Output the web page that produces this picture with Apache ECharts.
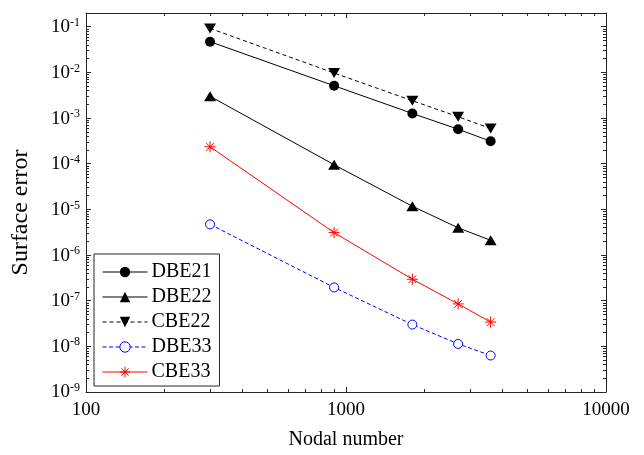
<!DOCTYPE html>
<html>
<head>
<meta charset="utf-8">
<script src="https://cdn.jsdelivr.net/npm/echarts@6/dist/echarts.min.js"></script>
<style>html,body{margin:0;padding:0;background:#fff}#c{width:644px;height:455px}</style>
</head>
<body>
<div id="c"></div>
<script>
const nodal = [300, 900, 1800, 2700, 3600];
const dbe21 = [0.047, 0.0051, 0.00126, 0.00057, 0.00031];
const dbe22 = [0.003, 9.5e-5, 1.17e-5, 3.95e-6, 2.1e-6];
const cbe22 = [0.092, 0.0097, 0.0024, 0.00107, 5.9e-4];
const dbe33 = [4.7e-6, 1.95e-7, 3.0e-8, 1.13e-8, 6.3e-9];
const cbe33 = [2.35e-4, 3.1e-6, 2.95e-7, 8.5e-8, 3.4e-8];
const seriesNames = ['DBE21', 'DBE22', 'CBE22', 'DBE33', 'CBE33'];
const xTicks = [100, 1000, 10000];
const yTicks = [1e-9, 1e-8, 1e-7, 1e-6, 1e-5, 1e-4, 1e-3, 1e-2, 1e-1];

function minorOf(majors) {
  const out = [];
  for (let i = 0; i < majors.length - 1; i++) {
    for (let k = 2; k <= 9; k++) out.push(+(majors[i] * k).toPrecision(6));
  }
  return out;
}
const xMinor = minorOf(xTicks);
const yMinor = minorOf(yTicks);

const FONT = 'Liberation Serif';
const AX = '#262626';
const pair = ys => nodal.map((x, i) => [x, ys[i]]);

function xAxisDef(pos, ticks, major, labels) {
  return {
    type: 'log', logBase: 10, min: 100, max: 10000, position: pos, gridIndex: 0,
    axisLine: { show: major, lineStyle: { color: AX, width: 1 } },
    axisTick: { show: true, inside: true, length: major ? 5 : 3, customValues: ticks, lineStyle: { color: AX } },
    axisLabel: labels ? { show: true, customValues: xTicks, margin: 9, color: '#000', fontFamily: FONT, fontSize: 19, formatter: v => String(Math.round(v)) } : { show: false },
    splitLine: { show: false },
    name: labels ? 'Nodal number' : '', nameLocation: 'middle', nameGap: 38,
    nameTextStyle: { color: '#000', fontFamily: FONT, fontSize: 20 }
  };
}
function yAxisDef(pos, ticks, major, labels) {
  return {
    type: 'log', logBase: 10, min: 1e-9, max: 0.2, position: pos, gridIndex: 0,
    axisLine: { show: major, lineStyle: { color: AX, width: 1 } },
    axisTick: { show: true, inside: true, length: major ? 5 : 3, customValues: ticks, lineStyle: { color: AX } },
    axisLabel: labels ? {
      show: true, customValues: yTicks, margin: 6, color: '#000', fontFamily: FONT,
      formatter: v => '{b|10}{s|' + Math.round(Math.log10(v)) + '}',
      rich: {
        b: { fontFamily: FONT, fontSize: 19, color: '#000', lineHeight: 20, verticalAlign: 'bottom' },
        s: { fontFamily: FONT, fontSize: 12, color: '#000', lineHeight: 12, verticalAlign: 'top' }
      }
    } : { show: false },
    splitLine: { show: false },
    name: labels ? 'Surface error' : '', nameLocation: 'middle', nameGap: 53, nameRotate: 90,
    nameTextStyle: { color: '#000', fontFamily: FONT, fontSize: 24, padding: [0, 20, 0, 0] }
  };
}

const downTri = 'path://M0,0 L12,0 L6,10 Z';
const star = 'path://M0,5 L10,5 M5,0 L5,10 M1.5,1.5 L8.5,8.5 M1.5,8.5 L8.5,1.5';

const option = {
  backgroundColor: '#fff',
  animation: false,
  grid: { left: 86, right: 38, top: 13, bottom: 60, containLabel: false },
  xAxis: [
    xAxisDef('bottom', xTicks, true, true),
    xAxisDef('bottom', xMinor, false, false),
    xAxisDef('top', xTicks, true, false),
    xAxisDef('top', xMinor, false, false)
  ],
  yAxis: [
    yAxisDef('left', yTicks, true, true),
    yAxisDef('left', yMinor, false, false),
    yAxisDef('right', yTicks, true, false),
    yAxisDef('right', yMinor, false, false)
  ],
  legend: {
    orient: 'vertical', left: 94, top: 254,
    data: seriesNames,
    itemWidth: 45, itemHeight: 13, itemGap: 5,
    padding: [8, 8, 4, 8],
    backgroundColor: '#fff', borderColor: AX, borderWidth: 1,
    lineStyle: { width: 1 },
    itemStyle: { borderWidth: 1 },
    textStyle: { fontFamily: FONT, fontSize: 20, color: '#000', padding: [0, 0, 0, -1] }
  },
  series: [
    { name: seriesNames[0], type: 'line', data: pair(dbe21), symbol: 'circle', symbolSize: 10,
      lineStyle: { color: '#000', width: 1 }, itemStyle: { color: '#000' } },
    { name: seriesNames[1], type: 'line', data: pair(dbe22), symbol: 'triangle', symbolSize: [12, 10],
      lineStyle: { color: '#000', width: 1 }, itemStyle: { color: '#000' } },
    { name: seriesNames[2], type: 'line', data: pair(cbe22), symbol: downTri, symbolSize: [12, 10],
      lineStyle: { color: '#000', width: 1, type: [4, 3] }, itemStyle: { color: '#000' } },
    { name: seriesNames[3], type: 'line', data: pair(dbe33), symbol: 'circle', symbolSize: 9,
      lineStyle: { color: '#0000ff', width: 1, type: [4, 2.5] }, itemStyle: { color: '#fff', borderColor: '#0000ff', borderWidth: 1 } },
    { name: seriesNames[4], type: 'line', data: pair(cbe33), symbol: star, symbolSize: 11,
      lineStyle: { color: '#ff0000', width: 1 }, itemStyle: { color: 'rgba(0,0,0,0)', borderColor: '#ff0000', borderWidth: 1 } }
  ]
};
const chart = echarts.init(document.getElementById('c'), null, { renderer: 'canvas' });
chart.setOption(option);
</script>
</body>
</html>
